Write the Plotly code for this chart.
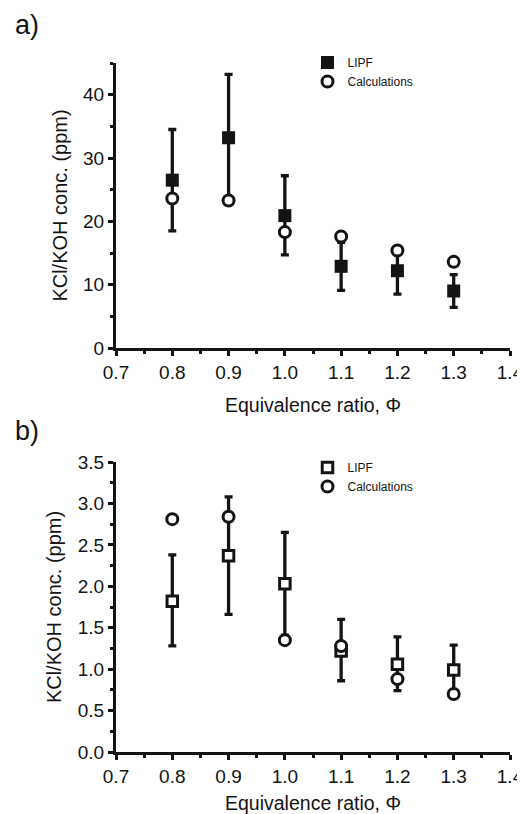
import plotly.graph_objects as go

# ---- data ----
phi = [0.8, 0.9, 1.0, 1.1, 1.2, 1.3]

# panel a) KCl
a_lipf = [26.5, 33.2, 20.9, 12.9, 12.2, 9.0]
a_lipf_plus = [8.0, 10.0, 6.3, 3.8, 3.7, 2.6]
a_lipf_minus = [8.0, 10.0, 6.2, 3.8, 3.7, 2.6]
a_calc = [23.6, 23.3, 18.3, 17.6, 15.4, 13.6]

# panel b) KOH
b_lipf = [1.82, 2.37, 2.03, 1.22, 1.06, 0.99]
b_lipf_plus = [0.56, 0.71, 0.62, 0.38, 0.33, 0.30]
b_lipf_minus = [0.54, 0.71, 0.62, 0.36, 0.32, 0.30]
b_calc = [2.81, 2.84, 1.35, 1.28, 0.88, 0.70]

series_names = ["LIPF", "Calculations"]
panel_labels = ["a)", "b)"]
x_title = "Equivalence ratio, \u03a6"
y_title = "KCl/KOH conc. (ppm)"

INK = "#141414"
FONT = "Liberation Sans, Arial, sans-serif"

fig = go.Figure()

# panel a
fig.add_trace(go.Scatter(
    x=phi, y=a_lipf, mode="markers", name=series_names[0],
    xaxis="x", yaxis="y", legend="legend",
    marker=dict(symbol="square", size=13, color=INK, line=dict(width=0)),
    error_y=dict(type="data", array=a_lipf_plus, arrayminus=a_lipf_minus,
                 symmetric=False, thickness=3.3, width=4, color=INK),
))
fig.add_trace(go.Scatter(
    x=phi, y=a_calc, mode="markers", name=series_names[1],
    xaxis="x", yaxis="y", legend="legend",
    marker=dict(symbol="circle", size=11, color="white", line=dict(width=3, color=INK)),
))

# panel b
fig.add_trace(go.Scatter(
    x=phi, y=b_lipf, mode="markers", name=series_names[0],
    xaxis="x2", yaxis="y2", legend="legend2",
    marker=dict(symbol="square", size=10.5, color="white", line=dict(width=3, color=INK)),
    error_y=dict(type="data", array=b_lipf_plus, arrayminus=b_lipf_minus,
                 symmetric=False, thickness=3.3, width=4, color=INK),
))
fig.add_trace(go.Scatter(
    x=phi, y=b_calc, mode="markers", name=series_names[1],
    xaxis="x2", yaxis="y2", legend="legend2",
    marker=dict(symbol="circle", size=11, color="white", line=dict(width=3, color=INK)),
))

# page body has an 8px margin; the figure is sized to fit the 525x814 window
OFF = 8
W, H = 525 - OFF, 814 - OFF


def fx(px):
    return (px - OFF) / W


def fy(py):
    return (H - (py - OFF)) / H


xdom = [fx(116), fx(510)]
ydom_a = [fy(348), fy(63)]
ydom_b = [fy(752), fy(462)]

tickfont = dict(family=FONT, size=19, color=INK)
titlefont = dict(family=FONT, size=19.5, color=INK)
ytitlefont = dict(family=FONT, size=20, color=INK)


def xaxis_cfg(anchor):
    return dict(
        domain=xdom, anchor=anchor, range=[0.7, 1.4], dtick=0.1, tick0=0.7,
        tickformat=".1f", ticks="outside", ticklen=5, tickwidth=3, tickcolor=INK,
        showline=True, linewidth=3, linecolor=INK, showgrid=False, zeroline=False,
        automargin=False,
        tickfont=tickfont, title=dict(text=x_title, font=titlefont, standoff=17),
        minor=dict(dtick=0.05, tick0=0.7, ticks="outside", ticklen=3, tickwidth=3,
                   tickcolor=INK, showgrid=False),
    )


def yaxis_cfg(anchor, dom, rng, dtick, mdtick, fmt):
    return dict(
        domain=dom, anchor=anchor, range=rng, dtick=dtick, tick0=0,
        tickformat=fmt, ticks="outside", ticklen=5, tickwidth=3, tickcolor=INK,
        showline=True, linewidth=3, linecolor=INK, showgrid=False, zeroline=False,
        automargin=False,
        tickfont=tickfont, title=dict(text=y_title, font=ytitlefont, standoff=11),
        minor=dict(dtick=mdtick, tick0=0, ticks="outside", ticklen=3, tickwidth=3,
                   tickcolor=INK, showgrid=False),
    )


legend_font = dict(family=FONT, size=12, color=INK)

fig.update_layout(
    width=W, height=H,
    margin=dict(l=0, r=0, t=0, b=0, pad=0, autoexpand=False),
    paper_bgcolor="white", plot_bgcolor="white",
    showlegend=True,
    xaxis=xaxis_cfg("y"),
    yaxis=yaxis_cfg("x", ydom_a, [0, 45], 10, 5, "d"),
    xaxis2=xaxis_cfg("y2"),
    yaxis2=yaxis_cfg("x2", ydom_b, [0, 3.5], 0.5, 0.25, ".1f"),
    legend=dict(x=fx(307.5), y=fy(48), xanchor="left", yanchor="top",
                bgcolor="rgba(0,0,0,0)", font=legend_font, tracegroupgap=0,
                itemsizing="trace"),
    legend2=dict(x=fx(307.5), y=fy(453), xanchor="left", yanchor="top",
                 bgcolor="rgba(0,0,0,0)", font=legend_font, tracegroupgap=0,
                 itemsizing="trace"),
    annotations=[
        dict(text=panel_labels[0], xref="paper", yref="paper", x=fx(13), y=fy(25),
             xanchor="left", yanchor="middle", showarrow=False,
             font=dict(family=FONT, size=27, color=INK)),
        dict(text=panel_labels[1], xref="paper", yref="paper", x=fx(13), y=fy(431),
             xanchor="left", yanchor="middle", showarrow=False,
             font=dict(family=FONT, size=27, color=INK)),
    ],
)

fig.write_html("out.html")
